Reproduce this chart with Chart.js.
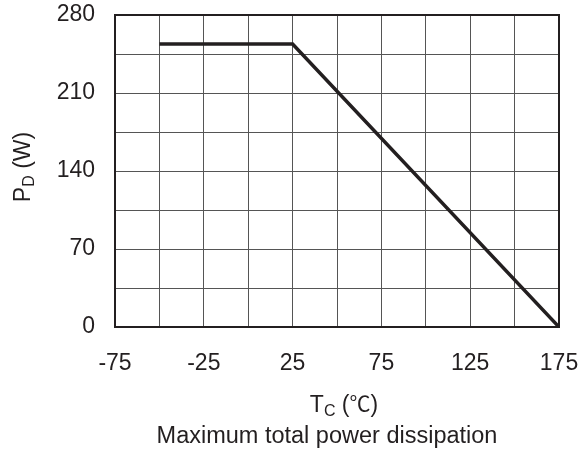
<!DOCTYPE html>
<html lang="en">
<head>
    <meta charset="UTF-8">
    <title>Maximum total power dissipation</title>
    <script src="https://cdn.jsdelivr.net/npm/chart.js"></script>
    <style>
        body {
            margin: 0;
            background-color: #ffffff;
        }
        canvas {
            display: block;
        }
    </style>
</head>
<body>
    <canvas id="pdChart" width="581" height="453"></canvas>

    <script>
        // data
        const caseTemp = [-50, 25, 175];
        const powerDiss = [254, 254, 0];

        const xTickLabels = [-75, -25, 25, 75, 125, 175];
        const yTickLabels = [0, 70, 140, 210, 280];

        const chartTitle = 'Maximum total power dissipation';
        const ink = '#231f20';
        const mainFont = "'Liberation Sans', Arial, sans-serif";

        // titles with subscripts + the heavy frame round the plot
        const extrasPlugin = {
            id: 'extras',
            afterDraw(chart) {
                const ctx = chart.ctx;
                const area = chart.chartArea;
                ctx.save();

                ctx.strokeStyle = ink;
                ctx.lineWidth = 2;
                ctx.strokeRect(area.left, area.top, area.right - area.left, area.bottom - area.top);

                ctx.fillStyle = ink;
                ctx.textBaseline = 'alphabetic';

                // x title: T_C (℃)
                const big = '23px ' + mainFont;
                const small = '16px ' + mainFont;
                const cjk = "21px 'Noto Sans CJK SC', sans-serif";
                ctx.font = big;
                const wT = ctx.measureText('T').width;
                const wOpen = ctx.measureText(' (').width;
                const wClose = ctx.measureText(')').width;
                ctx.font = small;
                const wC = ctx.measureText('C').width;
                ctx.font = cjk;
                const wDeg = ctx.measureText('℃').width;
                let x = 344 - (wT + wC + wOpen + wDeg + wClose) / 2;
                ctx.textAlign = 'left';
                ctx.font = big;
                ctx.fillText('T', x, 412); x += wT;
                ctx.font = small;
                ctx.fillText('C', x, 416); x += wC;
                ctx.font = big;
                ctx.fillText(' (', x, 412); x += wOpen;
                ctx.font = cjk;
                ctx.fillText('℃', x, 411); x += wDeg;
                ctx.font = big;
                ctx.fillText(')', x, 412);

                // chart title under the axis title
                ctx.textAlign = 'center';
                ctx.font = '23.5px ' + mainFont;
                ctx.fillText(chartTitle, 327, 443);

                // y title: P_D (W), rotated
                ctx.translate(30, 167);
                ctx.rotate(-Math.PI / 2);
                ctx.font = big;
                const wP = ctx.measureText('P').width;
                const wW = ctx.measureText(' (W)').width;
                ctx.font = small;
                const wD = ctx.measureText('D').width;
                let y = -(wP + wD + wW) / 2;
                ctx.textAlign = 'left';
                ctx.font = big;
                ctx.fillText('P', y, 0); y += wP;
                ctx.font = small;
                ctx.fillText('D', y, 4); y += wD;
                ctx.font = big;
                ctx.fillText(' (W)', y, 0);

                ctx.restore();
            }
        };

        function noEdgePadding(scale) {
            scale.paddingTop = 0;
            scale.paddingBottom = 0;
            scale.paddingLeft = 0;
            scale.paddingRight = 0;
        }

        const ctx = document.getElementById('pdChart').getContext('2d');
        new Chart(ctx, {
            type: 'line',
            data: {
                datasets: [{
                    data: caseTemp.map((t, i) => ({ x: t, y: powerDiss[i] })),
                    borderColor: ink,
                    borderWidth: 3.5,
                    pointRadius: 0,
                    tension: 0,
                    fill: false
                }]
            },
            options: {
                responsive: false,
                animation: false,
                layout: {
                    padding: { left: 0, right: 22, top: 15, bottom: 0 }
                },
                plugins: {
                    legend: { display: false },
                    tooltip: { enabled: false },
                    title: { display: false }
                },
                scales: {
                    x: {
                        type: 'linear',
                        min: -75,
                        max: 175,
                        afterFit(scale) {
                            scale.height = 126;
                            noEdgePadding(scale);
                        },
                        ticks: {
                            stepSize: 25,
                            autoSkip: false,
                            maxRotation: 0,
                            padding: 23,
                            color: ink,
                            font: { family: mainFont, size: 23 },
                            callback: v => xTickLabels.includes(v) ? String(v) : ''
                        },
                        grid: {
                            color: '#555555',
                            lineWidth: 1,
                            drawTicks: false
                        },
                        border: { display: false }
                    },
                    y: {
                        min: 0,
                        max: 280,
                        afterFit(scale) {
                            scale.width = 115;
                            noEdgePadding(scale);
                        },
                        ticks: {
                            stepSize: 35,
                            autoSkip: false,
                            padding: 20,
                            color: ink,
                            font: { family: mainFont, size: 23 },
                            callback: v => yTickLabels.includes(v) ? String(v) : ''
                        },
                        grid: {
                            color: '#555555',
                            lineWidth: 1,
                            drawTicks: false
                        },
                        border: { display: false }
                    }
                }
            },
            plugins: [extrasPlugin]
        });
    </script>
</body>
</html>
